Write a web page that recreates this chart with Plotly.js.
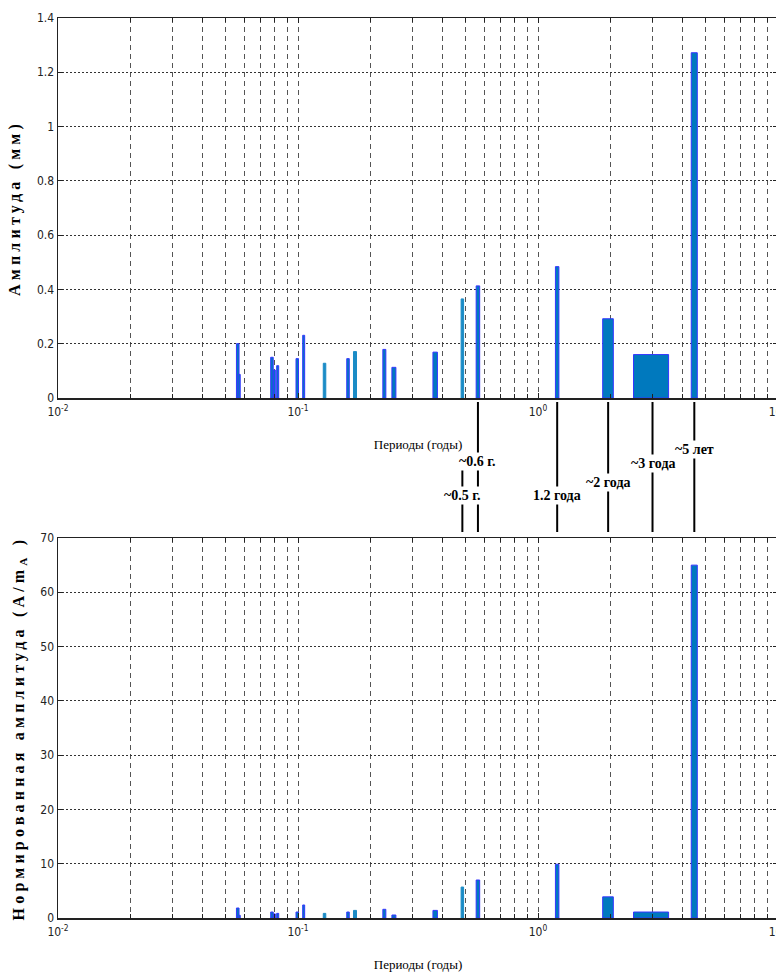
<!DOCTYPE html>
<html>
<head>
<meta charset="utf-8">
<script src="https://cdn.plot.ly/plotly-3.0.1.min.js"></script>
<style>
  html, body { margin: 0; padding: 0; background: #fff; overflow: hidden; }
  #chart { width: 800px; height: 976px; }
</style>
</head>
<body>
<div id="chart"></div>
<script>
// ---- data ----
const periods = [0.0561, 0.0569, 0.0779, 0.0797, 0.0823, 0.0993, 0.1056, 0.129, 0.1616, 0.1728,
                 0.229, 0.251, 0.373, 0.484, 0.562, 1.202, 1.96, 3.0, 4.48];
const amplitudeMm = [0.2, 0.087, 0.15, 0.103, 0.119, 0.145, 0.231, 0.128, 0.145, 0.171,
                     0.179, 0.113, 0.169, 0.365, 0.413, 0.484, 0.292, 0.16, 1.272];
const normAmplitude = [1.84, 0.5, 1.1, 0.75, 0.85, 1.1, 2.4, 0.85, 1.1, 1.4,
                       1.6, 0.55, 1.4, 5.7, 7.0, 9.9, 3.9, 1.1, 65];
const binWidths = [0.0014, 0.0011, 0.0019, 0.0015, 0.0016, 0.0024, 0.002, 0.0031, 0.0039, 0.005,
                   0.0066, 0.0096, 0.016, 0.0116, 0.019, 0.04, 0.2, 1.0, 0.26];
const tealBars = [7, 9, 13];

const peakPeriods = [0.484, 0.562, 1.202, 1.96, 3.0, 4.48];
const peakLabels = ['~0.5 г.', '~0.6 г.', '1.2 года', '~2 года', '~3 года', '~5 лет'];

const xTickVals = [0.01, 0.1, 1, 10];
const xTickText = ['10<sup>-2</sup>', '10<sup>-1</sup>', '10<sup>0</sup>', '10<sup>1</sup>'];

const xTitle = 'Периоды (годы)';
const yTitleTop = 'Амплитуда (мм)';
const yTitleBottom = 'Нормированная амплитуда (A/m<sub>A</sub> )';

// ---- styling / layout helpers ----
const FILL = '#0079be';
const TEAL = '#1b8cc6';
const EDGE = '#3535ff';
const fillColors = periods.map((_, i) => tealBars.includes(i) ? TEAL : FILL);
const edgeColors = periods.map((_, i) => tealBars.includes(i) ? TEAL : EDGE);

const minorVals = [];
[0.01, 0.1, 1].forEach(d => { for (let k = 2; k <= 9; k++) minorVals.push(+(k * d).toPrecision(3)); });

// label / line placement (pixel rows in the 976px page, converted to paper units)
const PLOT_TOP = 18, PLOT_BOTTOM = 918, PLOT_H = PLOT_BOTTOM - PLOT_TOP;
const toPaper = py => (PLOT_BOTTOM - py) / PLOT_H;
const labelRows = [495, 461, 495, 483, 463, 449];
const lineTops = [462, 402, 402, 402, 402, 402];
const lineBottom = 532;

const tickFont = { family: 'Liberation Sans Narrow, DejaVu Sans Condensed, Liberation Sans, Arial, sans-serif', size: 12, color: '#222' };
const xTitleFont = { family: 'Liberation Serif, Times New Roman, serif', size: 13, color: '#000' };
const yTitleFont = { family: 'Liberation Serif, Times New Roman, serif', size: 16, color: '#000', weight: 'bold' };

function xAxis(anchor) {
  return {
    type: 'log', range: [-2, 1], anchor: anchor,
    tickmode: 'array', tickvals: xTickVals, ticktext: xTickText,
    ticks: 'inside', ticklen: 5, tickcolor: '#222', ticklabelstandoff: 2,
    showgrid: true, gridcolor: '#555', griddash: '5px,4px', gridwidth: 1,
    minor: { tickvals: minorVals, ticks: 'inside', ticklen: 4, tickcolor: '#222',
             showgrid: true, gridcolor: '#555', griddash: '5px,4px', gridwidth: 1 },
    showline: true, mirror: 'ticks', linecolor: '#222', linewidth: 1.5,
    zeroline: false, tickfont: tickFont,
    title: { text: xTitle, font: xTitleFont, standoff: 22 }
  };
}
function yAxis(domain, range, dtick, title) {
  return {
    domain: domain, range: range, dtick: dtick,
    ticks: 'inside', ticklen: 5, tickcolor: '#222',
    showgrid: true, gridcolor: '#333', griddash: '2px,2px', gridwidth: 1,
    showline: true, mirror: 'ticks', linecolor: '#222', linewidth: 1.5,
    zeroline: false, tickfont: tickFont,
    title: { text: title, font: yTitleFont, standoff: 12 }
  };
}

const barCommon = {
  type: 'bar', x: periods, width: binWidths,
  marker: { color: fillColors, line: { color: edgeColors, width: 1 } },
  hoverinfo: 'x+y', showlegend: false
};

const traces = [
  Object.assign({}, barCommon, { y: amplitudeMm, xaxis: 'x', yaxis: 'y' }),
  Object.assign({}, barCommon, { y: normAmplitude, xaxis: 'x2', yaxis: 'y2' })
];

const shapes = peakPeriods.map((p, i) => ({
  type: 'line', xref: 'x', yref: 'paper', x0: p, x1: p,
  y0: toPaper(lineBottom), y1: toPaper(lineTops[i]),
  line: { color: '#000', width: 2 }
}));

const annotations = peakPeriods.map((p, i) => ({
  xref: 'x', yref: 'paper', x: Math.log10(p), y: toPaper(labelRows[i]),
  text: peakLabels[i], showarrow: false, bgcolor: '#fff', borderpad: 1,
  font: { family: 'Liberation Serif, Times New Roman, serif', size: 14, color: '#000', weight: 'bold' },
  xanchor: 'center', yanchor: 'middle'
}));

const layout = {
  width: 800, height: 976,
  margin: { l: 58, r: 22, t: PLOT_TOP, b: 976 - PLOT_BOTTOM },
  paper_bgcolor: '#fff', plot_bgcolor: '#fff',
  bargap: 0,
  xaxis: xAxis('y'),
  yaxis: yAxis([toPaper(398), 1], [0, 1.4], 0.2, yTitleTop),
  xaxis2: xAxis('y2'),
  yaxis2: yAxis([0, toPaper(538)], [0, 70], 10, yTitleBottom),
  shapes: shapes,
  annotations: annotations
};

Plotly.newPlot('chart', traces, layout, { displayModeBar: false, staticPlot: true }).then(() => {
  document.querySelectorAll('.ytitle, .y2title').forEach(el => { el.style.letterSpacing = '4.2px'; });
});
</script>
</body>
</html>
